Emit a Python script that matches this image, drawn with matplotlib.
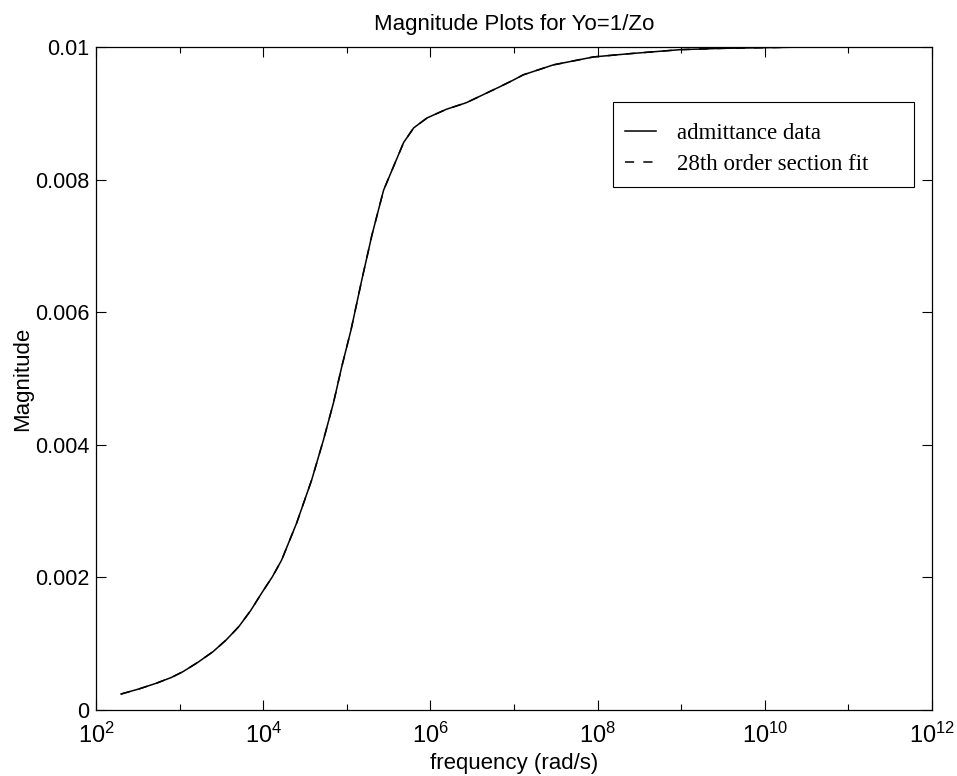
import matplotlib
matplotlib.use("Agg")
import matplotlib.pyplot as plt
from matplotlib.ticker import FixedLocator, FixedFormatter
from matplotlib.patches import Rectangle

plt.rcParams['font.family'] = ['Liberation Sans', 'DejaVu Sans']
plt.rcParams['mathtext.fontset'] = 'custom'
plt.rcParams['mathtext.rm'] = 'Liberation Sans'
plt.rcParams['mathtext.it'] = 'Liberation Sans'
plt.rcParams['mathtext.bf'] = 'Liberation Sans'

# log10 of frequency (rad/s) and magnitude
log_freq = [2.30, 2.52, 2.72, 2.90, 3.04, 3.22, 3.40, 3.56, 3.71, 3.85,
            3.99, 4.11, 4.22, 4.40, 4.58, 4.72, 4.84, 4.94, 5.05, 5.18,
            5.30, 5.44, 5.56, 5.68, 5.80, 5.96, 6.19, 6.43, 6.63, 6.83,
            6.99, 7.11, 7.47, 7.95, 8.39, 8.99, 9.50, 10.0, 10.5, 11.0]
admittance = [0.000241, 0.000320, 0.000403, 0.000490, 0.000578, 0.000720,
              0.00088, 0.00106, 0.00126, 0.00150, 0.00178, 0.00201,
              0.00226, 0.00282, 0.00347, 0.00407, 0.00463, 0.00518,
              0.00573, 0.00649, 0.00716, 0.00784, 0.00820, 0.00856,
              0.00878, 0.00893, 0.00906, 0.00916, 0.00928, 0.00940,
              0.00950, 0.00958, 0.00973, 0.00985, 0.00990, 0.00996,
              0.00998, 0.00999, 0.01000, 0.01000]
section_fit = [0.000241, 0.000320, 0.000403, 0.000490, 0.000578, 0.000720,
               0.00088, 0.00106, 0.00126, 0.00150, 0.00178, 0.00201,
               0.00226, 0.00282, 0.00347, 0.00407, 0.00463, 0.00518,
               0.00573, 0.00649, 0.00716, 0.00784, 0.00820, 0.00856,
               0.00878, 0.00893, 0.00906, 0.00916, 0.00928, 0.00940,
               0.00950, 0.00958, 0.00973, 0.00985, 0.00990, 0.00996,
               0.00998, 0.00999, 0.01000, 0.01000]

y_ticks = [0, 0.002, 0.004, 0.006, 0.008, 0.01]
y_tick_labels = ['0', '0.002', '0.004', '0.006', '0.008', '0.01']
x_major_exp = [2, 4, 6, 8, 10, 12]
x_minor_exp = [3, 5, 7, 9, 11]

freq = [10 ** v for v in log_freq]

W, H = 957, 776
L, R, T, B = 96, 932, 47, 710
fig = plt.figure(figsize=(W / 100, H / 100), dpi=100)
ax = fig.add_axes([L / W, 1 - B / H, (R - L) / W, (B - T) / H])

ax.plot(freq, admittance, color='black', lw=1.1, ls='-', label='admittance data',
        solid_joinstyle='round')
ax.plot(freq, section_fit, color='black', lw=1.1, ls=(0, (6, 6)),
        label='28th order section fit')

ax.set_xscale('log')
ax.set_xlim(1e2, 1e12)
ax.set_ylim(0, 0.01)

ax.xaxis.set_major_locator(FixedLocator([10.0 ** e for e in x_major_exp]))
ax.xaxis.set_major_formatter(FixedFormatter([r'$\mathregular{10^{%d}}$' % e for e in x_major_exp]))
ax.xaxis.set_minor_locator(FixedLocator([10.0 ** e for e in x_minor_exp]))
ax.xaxis.set_minor_formatter(FixedFormatter([''] * len(x_minor_exp)))
ax.set_yticks(y_ticks)
ax.set_yticklabels(y_tick_labels)

ax.tick_params(which='both', direction='in', top=True, right=True,
               labelsize=15.5, width=0.8, colors='black')
ax.tick_params(which='major', length=7)
ax.tick_params(which='minor', length=4)
ax.tick_params(axis='x', labelsize=17, pad=9)
ax.tick_params(axis='y', pad=5)
for s in ax.spines.values():
    s.set_linewidth(0.9)

ax.set_title('Magnitude Plots for Yo=1/Zo', fontsize=16, pad=12)
ax.set_xlabel('frequency (rad/s)', fontsize=16, labelpad=4)
ax.set_ylabel('Magnitude', fontsize=16, labelpad=1)

def ax_x(px):
    return (px - L) / (R - L)

def ax_y(py):
    return 1 - (py - T) / (B - T)

# legend box drawn as a MATLAB-style wide frame
box_l, box_r, box_t, box_b = 613, 914, 102, 187
ax.add_patch(Rectangle((ax_x(box_l), ax_y(box_b)), ax_x(box_r) - ax_x(box_l),
                       ax_y(box_t) - ax_y(box_b), transform=ax.transAxes,
                       facecolor='white', edgecolor='black', lw=0.8, zorder=4))
leg = ax.legend(loc='upper left', bbox_to_anchor=(ax_x(625), ax_y(123)),
                prop={'family': 'Liberation Serif', 'size': 16.5},
                frameon=False, handlelength=1.35, handletextpad=0.9,
                borderpad=0, labelspacing=0.42, borderaxespad=0)
leg.set_zorder(5)

fig.savefig('out.png', dpi=100)
